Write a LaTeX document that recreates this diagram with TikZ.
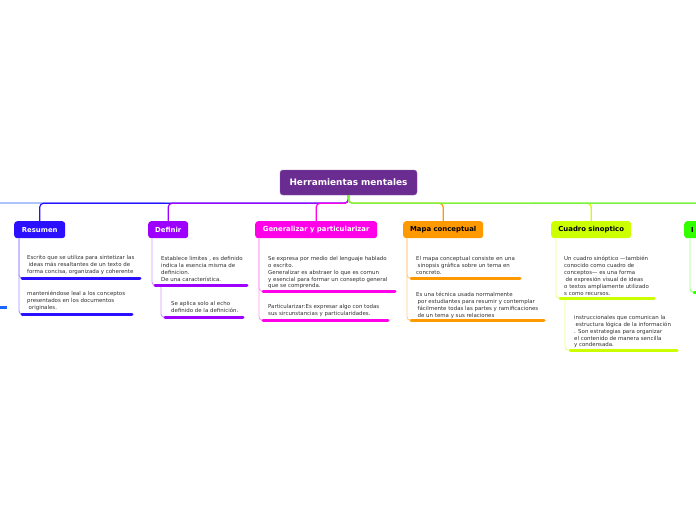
\documentclass[tikz,border=0pt]{standalone}
\usepackage{fontspec}
\setmainfont{DejaVu Sans}
\definecolor{rootc}{HTML}{6B2C91}
\definecolor{resc}{HTML}{2A10FF}\definecolor{resl}{HTML}{A095FF}
\definecolor{defc}{HTML}{9E00FF}\definecolor{defl}{HTML}{D099FF}
\definecolor{genc}{HTML}{FF00E8}\definecolor{genl}{HTML}{FF9CF5}
\definecolor{mapc}{HTML}{FF9900}\definecolor{mapl}{HTML}{FFCC88}
\definecolor{cuac}{HTML}{CCFF00}\definecolor{cual}{HTML}{E6FF88}
\definecolor{grnc}{HTML}{33FF00}\definecolor{grnl}{HTML}{99FF80}
\definecolor{grnm}{HTML}{7FF040}
\definecolor{leftc}{HTML}{7FA6FF}\definecolor{offc}{HTML}{1A66FF}
\definecolor{txt}{HTML}{2E2E2E}
\tikzset{
  rootbox/.style={fill=rootc,draw=rootc!80!white,rounded corners=3pt,text=white,font=\fontsize{8.9}{10}\selectfont\bfseries,minimum width=137pt,minimum height=25pt,inner sep=0pt},
  branch/.style={rounded corners=3pt,font=\fontsize{6.9}{8}\selectfont\bfseries,minimum height=17pt,inner sep=0pt,anchor=north west},
  body/.style={anchor=north west,inner sep=0pt,align=left,text=txt,font=\fontsize{5.45}{6.9}\selectfont},
  uline/.style={line width=3pt,line cap=round},
  thin/.style={line width=0.9pt,rounded corners=3pt},
  conn/.style={line width=1.2pt,rounded corners=4pt}
}
\begin{document}
\begin{tikzpicture}[x=1pt,y=-1pt]
\useasboundingbox (0,0) rectangle (696,520);
% root
\node[rootbox] (root) at (348.5,182.5) {Herramientas mentales};
% branches
\node[branch,fill=resc,text=white,minimum width=51pt] (res) at (14,221) {Resumen};
\node[branch,fill=defc,text=white,minimum width=40pt] (def) at (148,221) {Definir};
\node[branch,fill=genc,text=white,minimum width=122pt] (gen) at (255,221) {Generalizar y particularizar};
\node[branch,fill=mapc,text=black,minimum width=80pt] (map) at (403,221) {Mapa conceptual};
\node[branch,fill=cuac,text=black,minimum width=80pt] (cua) at (551,221) {Cuadro sinoptico};
\node[branch,fill=grnc,text=black,minimum width=40pt,anchor=north west,align=left,text width=34pt] (grn) at (684,221) {\hspace*{4pt}I};
% top connectors
\coordinate (offl) at (0,203);
\coordinate (offr) at (696,203);
\draw[conn,leftc] (root.south) -- ++(0,8) -- (offl);
\draw[conn,resc] (root.south) -- ++(0,8) -| (res.north);
\draw[conn,defc] (root.south) -- ++(0,8) -| (def.north);
\draw[conn,genc] (root.south) -- ++(0,8) -| (gen.north);
\draw[conn,mapc] (root.south) -- ++(0,8) -| (map.north);
\draw[conn,cuac] (root.south) -- ++(0,8) -| (cua.north);
\draw[conn,grnl] (root.south) -- ++(0,8) -- (offr);
\draw[conn,grnm] (root.south) -- ++(0,8) -| (grn.north);
% Resumen
\node[body] (r1) at (27,255) {Escrito que se utiliza para sintetizar las\\\hspace*{1.5pt}ideas más resaltantes de un texto de\\forma concisa, organizada y coherente};
\node[body] (r2) at (27,291) {manteniéndose leal a los conceptos\\presentados en los documentos\\\hspace*{1.5pt}originales.};
\coordinate (r1a) at (22,278); \coordinate (r1b) at (140,278);
\coordinate (r2a) at (22,314); \coordinate (r2b) at (132,314);
\draw[thin,resl] ([xshift=5pt]res.south west) |- (r1a);
\draw[thin,resl] ([xshift=5pt]res.south west) |- (r2a);
\draw[uline,resc] (r1a) -- (r1b);
\draw[uline,resc] (r2a) -- (r2b);
% offscreen fragment
\draw[uline,offc,line cap=butt] (0,307) -- (7,307);
% Definir
\node[body] (d1) at (161,256) {Establece limites , es definido\\indica la esencia misma de\\definicion.\\De una característica.};
\node[body] (d2) at (171,301) {Se aplica solo al echo\\definido de la definición.};
\coordinate (d1a) at (155,285); \coordinate (d1b) at (247,285);
\coordinate (d2a) at (165,317); \coordinate (d2b) at (243,317);
\draw[thin,defl] ([xshift=4pt]def.south west) |- (d1a);
\draw[thin,defl] ([xshift=6pt]d1a) |- (d2a);
\draw[uline,defc] (d1a) -- (d1b);
\draw[uline,defc] (d2a) -- (d2b);
% Generalizar
\node[body] (g1) at (268,256) {Se expresa por medio del lenguaje hablado\\o escrito.\\Generalizar es abstraer lo que es comun\\y esencial para formar un consepto general\\que se comprenda.};
\node[body] (g2) at (268,304) {Particularizar:Es expresar algo con todas\\sus sircunstancias y particularidades.};
\coordinate (g1a) at (263,291); \coordinate (g1b) at (395,291);
\coordinate (g2a) at (263,320); \coordinate (g2b) at (388,320);
\draw[thin,genl] ([xshift=4pt]gen.south west) |- (g1a);
\draw[thin,genl] ([xshift=4pt]gen.south west) |- (g2a);
\draw[uline,genc] (g1a) -- (g1b);
\draw[uline,genc] (g2a) -- (g2b);
% Mapa conceptual
\node[body] (m1) at (416,256) {El mapa conceptual consiste en una\\\hspace*{1.5pt}sinopsis gráfica sobre un tema en\\concreto.};
\node[body] (m2) at (416,292) {Es una técnica usada normalmente\\\hspace*{1.5pt}por estudiantes para resumir y contemplar\\\hspace*{1.5pt}fácilmente todas las partes y ramificaciones\\\hspace*{1.5pt}de un tema y sus relaciones};
\coordinate (m1a) at (411,278); \coordinate (m1b) at (520,278);
\coordinate (m2a) at (411,320); \coordinate (m2b) at (544,320);
\draw[thin,mapl] ([xshift=4pt]map.south west) |- (m1a);
\draw[thin,mapl] ([xshift=4pt]map.south west) |- (m2a);
\draw[uline,mapc] (m1a) -- (m1b);
\draw[uline,mapc] (m2a) -- (m2b);
% Cuadro sinoptico
\node[body] (c1) at (564,256) {Un cuadro sinóptico —también\\conocido como cuadro de\\conceptos— es una forma\\\hspace*{1.5pt}de expresión visual de ideas\\o textos ampliamente utilizado\\s como recursos.};
\node[body] (c2) at (574,315) {instruccionales que comunican la\\\hspace*{1.5pt}estructura lógica de la información\\. Son estrategias para organizar\\el contenido de manera sencilla\\y condensada.};
\coordinate (c1a) at (560,298); \coordinate (c1b) at (654,298);
\coordinate (c2a) at (570,350); \coordinate (c2b) at (677,350);
\draw[thin,cual] ([xshift=5pt]cua.south west) |- (c1a);
\draw[thin,cual] ([xshift=5pt]c1a) |- (c2a);
\draw[uline,cuac] (c1a) -- (c1b);
\draw[uline,cuac] (c2a) -- (c2b);
% green branch fragment
\coordinate (n1a) at (694,292); \coordinate (n1b) at (700,292);
\draw[thin,grnl] ([xshift=6pt]grn.south west) |- (n1a);
\draw[uline,grnc] (n1a) -- (n1b);
\end{tikzpicture}
\end{document}
